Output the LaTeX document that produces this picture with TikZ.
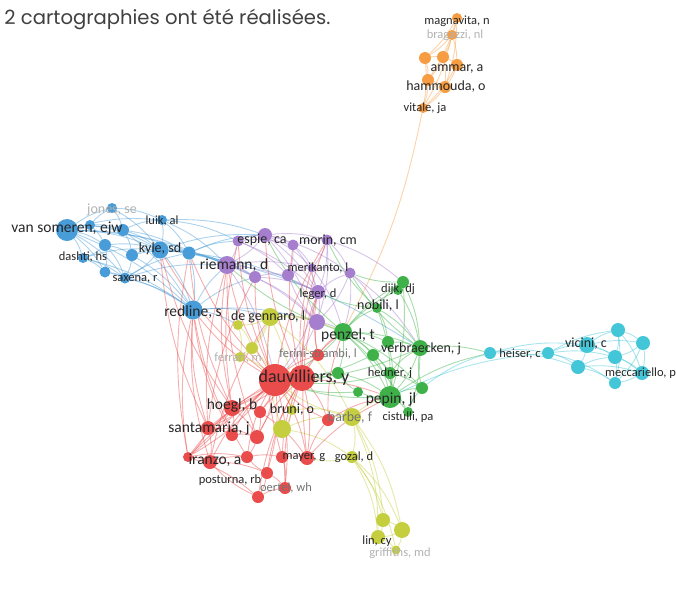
\documentclass[tikz,border=0pt]{standalone}
\usepackage{fontspec}
\setmainfont{Carlito}
\newfontfamily\titlefont{Poppins}
\usetikzlibrary{backgrounds}
\definecolor{vred}{RGB}{234,76,76}
\definecolor{vgreen}{RGB}{62,178,72}
\definecolor{vblue}{RGB}{72,156,216}
\definecolor{volive}{RGB}{196,206,62}
\definecolor{vpurple}{RGB}{166,126,206}
\definecolor{vcyan}{RGB}{66,198,216}
\definecolor{vorange}{RGB}{246,156,66}
\tikzset{
  bub/.style={circle, fill=#1, inner sep=0, draw=none},
  ed/.style={draw=#1, line width=0.9pt, opacity=0.45},
  au/.style={inner sep=0, text=black!85, font=\fontsize{12.5}{13}\selectfont},
  aufaint/.style={au, text=black!30},
  auM/.style={au, font=\fontsize{14}{14}\selectfont},
  auL/.style={au, font=\fontsize{15.5}{16}\selectfont},
  auXL/.style={au, font=\fontsize{18}{18}\selectfont},
}
\begin{document}
\begin{tikzpicture}[x=1pt,y=-1pt]
\useasboundingbox (0,0) rectangle (676,595);
\node[anchor=east, text=black!75, font=\titlefont\fontsize{19.6}{21}\selectfont] (title) at (334,19) {2 cartographies ont été réalisées.};

% orange
\node[bub=vorange,minimum size=10] (magnavita) at (457,18) {};
\node[bub=vorange,minimum size=10] (bragazzi) at (452,35) {};
\node[bub=vorange,minimum size=12] (o3) at (425,58) {};
\node[bub=vorange,minimum size=12] (o4) at (443,57) {};
\node[bub=vorange,minimum size=12] (ammar) at (457,65) {};
\node[bub=vorange,minimum size=12] (o6) at (428,80) {};
\node[bub=vorange,minimum size=12] (hammouda) at (445,87) {};
\node[bub=vorange,minimum size=10] (vitale) at (423,108) {};
% blue
\node[bub=vblue,minimum size=22] (vansomeren) at (67,230) {};
\node[bub=vblue,minimum size=10] (jones) at (112,208) {};
\node[bub=vblue,minimum size=10] (b3) at (90,225) {};
\node[bub=vblue,minimum size=12] (b4) at (123,230) {};
\node[bub=vblue,minimum size=10] (luik) at (162,220) {};
\node[bub=vblue,minimum size=12] (b6) at (105,245) {};
\node[bub=vblue,minimum size=12] (b7) at (132,255) {};
\node[bub=vblue,minimum size=17] (kyle) at (160,250) {};
\node[bub=vblue,minimum size=13] (b9) at (189,253) {};
\node[bub=vblue,minimum size=10] (dashti) at (83,258) {};
\node[bub=vblue,minimum size=11] (b11) at (105,272) {};
\node[bub=vblue,minimum size=11] (saxena) at (125,278) {};
\node[bub=vblue,minimum size=19] (redline) at (193,310) {};
% purple
\node[bub=vpurple,minimum size=11] (p1) at (238,241) {};
\node[bub=vpurple,minimum size=14] (espie) at (265,235) {};
\node[bub=vpurple,minimum size=11] (p3) at (293,245) {};
\node[bub=vpurple,minimum size=11] (morin) at (327,240) {};
\node[bub=vpurple,minimum size=18] (riemann) at (227,265) {};
\node[bub=vpurple,minimum size=12] (p6) at (255,277) {};
\node[bub=vpurple,minimum size=9] (merikanto) at (312,268) {};
\node[bub=vpurple,minimum size=12] (p8) at (288,275) {};
\node[bub=vpurple,minimum size=11] (p9) at (350,273) {};
\node[bub=vpurple,minimum size=14] (leger) at (318,292) {};
\node[bub=vpurple,minimum size=16] (p11) at (317,322) {};
% olive
\node[bub=volive,minimum size=18] (degennaro) at (270,317) {};
\node[bub=volive,minimum size=10] (y2) at (238,325) {};
\node[bub=volive,minimum size=12] (y3) at (252,348) {};
\node[bub=volive,minimum size=10] (ferrari) at (240,357) {};
\node[bub=volive,minimum size=10] (bruni) at (292,410) {};
\node[bub=volive,minimum size=18] (y6) at (282,429) {};
\node[bub=volive,minimum size=18] (barbe) at (352,417) {};
\node[bub=volive,minimum size=12] (gozal) at (352,457) {};
\node[bub=volive,minimum size=14] (y9) at (383,520) {};
\node[bub=volive,minimum size=16] (y10) at (402,530) {};
\node[bub=volive,minimum size=14] (lincy) at (378,537) {};
\node[bub=volive,minimum size=9] (griffiths) at (396,550) {};
% red
\node[bub=vred,minimum size=32] (dauvilliers) at (275,380) {};
\node[bub=vred,minimum size=26] (r2) at (302,378) {};
\node[bub=vred,minimum size=12] (ferini) at (318,355) {};
\node[bub=vred,minimum size=16] (hoegl) at (232,408) {};
\node[bub=vred,minimum size=12] (r5) at (260,412) {};
\node[bub=vred,minimum size=14] (santamaria) at (208,428) {};
\node[bub=vred,minimum size=12] (r7) at (232,435) {};
\node[bub=vred,minimum size=14] (r8) at (257,437) {};
\node[bub=vred,minimum size=10] (iranzo) at (188,457) {};
\node[bub=vred,minimum size=14] (r10) at (210,462) {};
\node[bub=vred,minimum size=12] (r11) at (247,457) {};
\node[bub=vred,minimum size=12] (r12) at (282,457) {};
\node[bub=vred,minimum size=14] (mayer) at (307,458) {};
\node[bub=vred,minimum size=12] (posturna) at (267,473) {};
\node[bub=vred,minimum size=12] (oertel) at (285,488) {};
\node[bub=vred,minimum size=12] (r16) at (258,497) {};
\node[bub=vred,minimum size=12] (r17) at (328,420) {};
% green
\node[bub=vgreen,minimum size=18] (penzel) at (343,332) {};
\node[bub=vgreen,minimum size=12] (dijk) at (403,282) {};
\node[bub=vgreen,minimum size=10] (g3) at (398,290) {};
\node[bub=vgreen,minimum size=10] (nobili) at (377,308) {};
\node[bub=vgreen,minimum size=16] (verbraecken) at (420,348) {};
\node[bub=vgreen,minimum size=12] (g6) at (388,342) {};
\node[bub=vgreen,minimum size=12] (g7) at (373,355) {};
\node[bub=vgreen,minimum size=12] (hedner) at (390,373) {};
\node[bub=vgreen,minimum size=22] (pepin) at (390,397) {};
\node[bub=vgreen,minimum size=12] (g10) at (422,388) {};
\node[bub=vgreen,minimum size=10] (g11) at (358,392) {};
\node[bub=vgreen,minimum size=10] (cistulli) at (408,412) {};
\node[bub=vgreen,minimum size=12] (g13) at (338,373) {};
% cyan
\node[bub=vcyan,minimum size=12] (heiser) at (490,353) {};
\node[bub=vcyan,minimum size=12] (c2) at (548,353) {};
\node[bub=vcyan,minimum size=16] (vicini) at (587,345) {};
\node[bub=vcyan,minimum size=14] (c4) at (618,330) {};
\node[bub=vcyan,minimum size=14] (c5) at (643,343) {};
\node[bub=vcyan,minimum size=14] (c6) at (615,357) {};
\node[bub=vcyan,minimum size=14] (c7) at (578,367) {};
\node[bub=vcyan,minimum size=14] (c8) at (642,373) {};
\node[bub=vcyan,minimum size=12] (c9) at (615,383) {};

\begin{scope}[on background layer]
\foreach \a/\b in {magnavita/bragazzi,bragazzi/o3,bragazzi/o4,bragazzi/ammar,o3/o4,o3/o6,o4/ammar,ammar/hammouda,o6/hammouda,o6/vitale,hammouda/vitale,o3/vitale,magnavita/o6,magnavita/hammouda,o4/o6,bragazzi/vitale,vitale/penzel,magnavita/o3,o4/hammouda,ammar/vitale}
  \draw[ed=vorange] (\a) to[bend left=8] (\b);
\foreach \a/\b in {vansomeren/b3,vansomeren/b4,vansomeren/b6,vansomeren/kyle,vansomeren/dashti,vansomeren/b11,vansomeren/redline,vansomeren/luik,jones/b4,jones/kyle,b3/b6,b4/kyle,b4/b7,b4/luik,luik/kyle,luik/b9,b6/b7,b6/dashti,b7/kyle,kyle/b9,kyle/redline,kyle/saxena,dashti/b11,b11/saxena,saxena/redline,b7/redline,b9/redline,b6/saxena,dashti/kyle,b3/kyle,jones/luik,b9/riemann,kyle/riemann,kyle/espie,luik/p1,vansomeren/riemann,b9/p1,redline/degennaro,redline/riemann,b4/b9,b11/redline,vansomeren/b9,saxena/b9,b9/verbraecken,vansomeren/jones,b3/jones,b3/b4,b6/b11,dashti/saxena,b7/saxena,b7/b9,luik/espie,b9/espie,kyle/p6,redline/p6,b9/p6,redline/y2,redline/p11,kyle/leger,saxena/riemann,vansomeren/saxena,dashti/redline,b6/kyle,b4/redline,luik/riemann}
  \draw[ed=vblue] (\a) to[bend left=10] (\b);
\foreach \a/\b in {p1/espie,espie/p3,p3/morin,espie/riemann,riemann/p6,p6/p8,p8/merikanto,merikanto/p9,morin/p9,p3/merikanto,leger/merikanto,leger/p11,leger/p9,p11/p8,riemann/p11,espie/leger,morin/leger,p1/riemann,p6/p11,p9/p11,espie/merikanto,p3/p8,morin/merikanto,p11/penzel,p11/dauvilliers,leger/dauvilliers,p9/penzel,riemann/dauvilliers,p9/nobili,morin/dijk,espie/p9,p1/leger,riemann/leger,p1/p3,espie/morin,p6/leger,riemann/merikanto,p1/p8,morin/p11,p3/leger,p9/verbraecken,merikanto/penzel,espie/p11}
  \draw[ed=vpurple] (\a) to[bend left=10] (\b);
\foreach \a/\b in {degennaro/y2,degennaro/y3,y3/ferrari,y2/ferrari,degennaro/ferrari,degennaro/p11,degennaro/bruni,bruni/y6,y6/barbe,barbe/gozal,gozal/y9,gozal/y10,barbe/y10,y9/y10,y10/lincy,y9/lincy,lincy/griffiths,y10/griffiths,gozal/lincy,degennaro/barbe,y6/degennaro,barbe/pepin,barbe/dauvilliers,gozal/mayer,barbe/y9,y3/bruni,degennaro/penzel,gozal/griffiths,barbe/lincy,bruni/barbe,y6/gozal,y2/y3,ferrari/dauvilliers}
  \draw[ed=volive] (\a) to[bend left=12] (\b);
\foreach \a/\b in {dauvilliers/r2,dauvilliers/ferini,dauvilliers/hoegl,dauvilliers/r5,dauvilliers/santamaria,dauvilliers/r8,dauvilliers/iranzo,dauvilliers/mayer,dauvilliers/posturna,dauvilliers/oertel,r2/ferini,r2/r17,r2/mayer,hoegl/r5,hoegl/santamaria,hoegl/r7,santamaria/r7,santamaria/iranzo,r7/r8,r8/r11,iranzo/r10,r10/r11,r11/r12,r12/mayer,mayer/r17,posturna/r11,posturna/oertel,posturna/r16,r16/oertel,r16/r10,iranzo/r16,santamaria/r10,r5/r8,r12/oertel,hoegl/iranzo,r17/dauvilliers,dauvilliers/riemann,r2/penzel,dauvilliers/pepin,r2/leger,dauvilliers/redline,hoegl/riemann,santamaria/redline,ferini/penzel,dauvilliers/b9,hoegl/kyle,r2/p3,dauvilliers/morin,iranzo/redline,r2/espie,santamaria/p6,r10/degennaro,mayer/pepin,r16/r2,iranzo/dauvilliers,r8/r2,hoegl/b9,santamaria/kyle,iranzo/b9,r10/redline,r7/redline,dauvilliers/kyle,dauvilliers/p1,dauvilliers/p6,r2/morin,r2/merikanto,hoegl/p1,santamaria/riemann,r8/riemann,r11/redline,mayer/leger,r17/penzel,r12/degennaro,oertel/r2,posturna/r2,iranzo/r2,santamaria/r2,hoegl/r2,r5/r2,r7/dauvilliers,r10/dauvilliers,r11/dauvilliers,r12/r2,iranzo/r11,santamaria/r8,hoegl/r8,r10/posturna,r5/mayer,ferini/leger,ferini/p11,r17/pepin}
  \draw[ed=vred] (\a) to[bend left=10] (\b);
\foreach \a/\b in {penzel/g13,penzel/nobili,penzel/dijk,penzel/g6,penzel/g7,penzel/verbraecken,penzel/hedner,penzel/pepin,g6/verbraecken,g7/hedner,hedner/pepin,pepin/g10,g10/verbraecken,pepin/g11,pepin/cistulli,g11/g13,nobili/dijk,g3/dijk,g6/g7,verbraecken/pepin,hedner/verbraecken,cistulli/g10,g13/pepin,nobili/verbraecken,dijk/verbraecken,pepin/dauvilliers,penzel/dauvilliers,nobili/leger,dijk/p9,penzel/espie,g13/dauvilliers,verbraecken/heiser,pepin/heiser,nobili/g6,g3/verbraecken,penzel/riemann,penzel/g3,penzel/cistulli,penzel/g10,hedner/g10,verbraecken/cistulli,g6/pepin,g7/pepin,nobili/pepin,dijk/pepin,verbraecken/dauvilliers,hedner/dauvilliers,g7/dauvilliers,g11/dauvilliers,nobili/morin,verbraecken/p9}
  \draw[ed=vgreen] (\a) to[bend left=10] (\b);
\foreach \a/\b in {heiser/c2,c2/vicini,c2/c7,vicini/c4,vicini/c6,vicini/c7,c4/c5,c4/c6,c5/c6,c5/c8,c6/c8,c6/c9,c7/c9,c8/c9,c7/c6,vicini/c5,c4/c8,c2/c6,heiser/vicini,g10/heiser,c2/c4,c7/c8,pepin/c2,vicini/c8,c4/c9,c5/c9,c2/c9,heiser/c7}
  \draw[ed=vcyan] (\a) to[bend left=10] (\b);
\end{scope}

% labels
\node[au] (l-magnavita) at (457,21) {magnavita, n};
\node[aufaint] (l-bragazzi) at (455,35) {bragazzi, nl};
\node[auM] (l-ammar) at (457,69) {ammar, a};
\node[auM] (l-hammouda) at (446,87) {hammouda, o};
\node[au] (l-vitale) at (425,108) {vitale, ja};
\node[auL] (l-vansomeren) at (67,228) {van someren, ejw};
\node[auM,text=black!30] (l-jones) at (112,210) {jones, se};
\node[au] (l-luik) at (162,221) {luik, al};
\node[auM] (l-kyle) at (160,249) {kyle, sd};
\node[au] (l-dashti) at (83,257) {dashti, hs};
\node[au] (l-saxena) at (135,279) {saxena, r};
\node[auL] (l-redline) at (193,312) {redline, s};
\node[auM] (l-espie) at (262,240) {espie, ca};
\node[auM] (l-morin) at (328,241) {morin, cm};
\node[auL] (l-riemann) at (234,265) {riemann, d};
\node[au] (l-merikanto) at (318,268) {merikanto, l};
\node[au] (l-leger) at (318,294) {leger, d};
\node[auM] (l-degennaro) at (268,317) {de gennaro, l};
\node[aufaint] (l-ferrari) at (238,358) {ferrari, m};
\node[auM] (l-bruni) at (292,410) {bruni, o};
\node[auM,text=black!55] (l-barbe) at (350,418) {barbe, f};
\node[au] (l-gozal) at (354,457) {gozal, d};
\node[au] (l-lincy) at (377,541) {lin, cy};
\node[aufaint] (l-griffiths) at (400,553) {griffiths, md};
\node[auXL] (l-dauvilliers) at (304,378) {dauvilliers, y};
\node[au,text=black!55] (l-ferini) at (318,354) {ferini-strambi, l};
\node[auL] (l-hoegl) at (232,405) {hoegl, b};
\node[auL] (l-santamaria) at (209,428) {santamaria, j};
\node[auL] (l-iranzo) at (215,460) {iranzo, a};
\node[au] (l-mayer) at (304,458) {mayer, g};
\node[au] (l-posturna) at (230,480) {posturna, rb};
\node[au,text=black!55] (l-oertel) at (286,488) {oertel, wh};
\node[auL] (l-penzel) at (348,335) {penzel, t};
\node[au] (l-dijk) at (398,289) {dijk, dj};
\node[auM] (l-nobili) at (378,306) {nobili, l};
\node[auM] (l-verbraecken) at (421,349) {verbraecken, j};
\node[au] (l-hedner) at (390,373) {hedner, j};
\node[auL] (l-pepin) at (391,399) {pepin, jl};
\node[au] (l-cistulli) at (408,417) {cistulli, pa};
\node[au] (l-heiser) at (520,354) {heiser, c};
\node[auM] (l-vicini) at (586,344) {vicini, c};
\node[au,anchor=west] (l-meccariello) at (605,373) {meccariello, p};
\end{tikzpicture}
\end{document}
